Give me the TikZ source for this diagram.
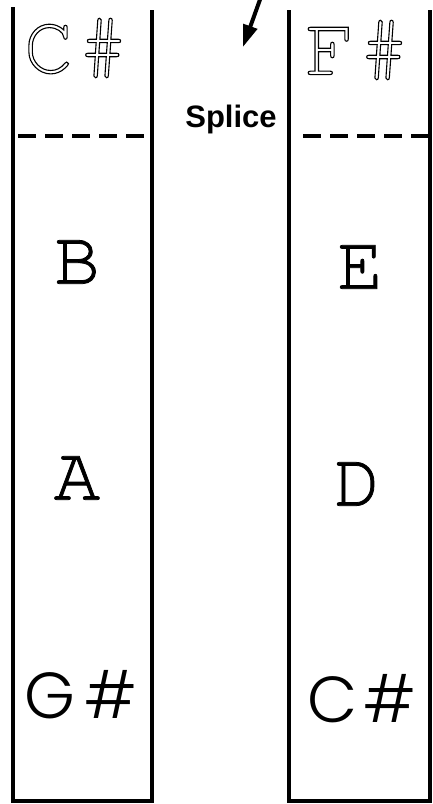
\documentclass[tikz,border=0pt]{standalone}
\usepackage{fontspec}
\usetikzlibrary{arrows.meta}
\newfontfamily\geofont{Poppins}[UprightFont=* Light]
\newfontfamily\courfont{texgyrecursor-regular.otf}
\newfontfamily\courheavy{texgyrecursor-regular.otf}[FakeBold=1.0]
\newfontfamily\labelfont{Liberation Sans}
\newcommand{\hollowtext}[1]{%
  \special{pdf:literal 1 Tr 1.1 w}#1\special{pdf:literal 0 Tr}}
\begin{document}
\begin{tikzpicture}[
    x=1pt, y=-1pt,
    wall/.style={line width=4pt, line join=miter},
    split/.style={line width=4.5pt, dash pattern=on 18pt off 9pt},
    note/.style={inner sep=0pt, font=\courheavy\fontsize{77}{77}\selectfont},
    hollow/.style={inner sep=0pt, font=\courfont\fontsize{84}{84}\selectfont},
    geo/.style={inner sep=0pt, font=\geofont\fontsize{65}{65}\selectfont},
    arr/.style={-{Triangle[length=22pt, width=14pt]}, line width=4pt},
  ]
  \useasboundingbox (0,0) rectangle (432,804);

  %% ================================================================
  %% Left strand
  %% ================================================================
  \draw[wall] (13,7) -- (13,801) -- (152,801) -- (152,10);
  \draw[split] (18,136) -- (150,136);

  \node[hollow] (Lcs) at (76,48)  {\hollowtext{C\kern4pt\#}};
  \node[note] (Lb)  at (77,262)  {B};
  \node[note] (La)  at (77,478)  {A};
  \node[geo]  (Lgs) at (81,695)  {G\kern10pt\#};

  %% ================================================================
  %% Right strand
  %% ================================================================
  \draw[wall] (289,10) -- (289,801) -- (430,801) -- (430,10);
  \draw[split] (303,136) -- (432,136);

  \node[hollow] (Rfs) at (357,50) {\hollowtext{F\kern4pt\#}};
  \node[note] (Re)  at (360,267)  {E};
  \node[note] (Rd)  at (357,484)  {D};
  \node[geo]  (Rcs) at (362,699)  {C\kern6pt\#};

  %% ================================================================
  %% Splice point
  %% ================================================================
  \node[font=\labelfont\bfseries\fontsize{31}{31}\selectfont, inner sep=0pt]
    (splice) at (231,119) {Splice};
  \coordinate (from) at (262,-6);
  \coordinate (to)   at (243,47);
  \draw[arr] (from) -- (to);

\end{tikzpicture}
\end{document}
